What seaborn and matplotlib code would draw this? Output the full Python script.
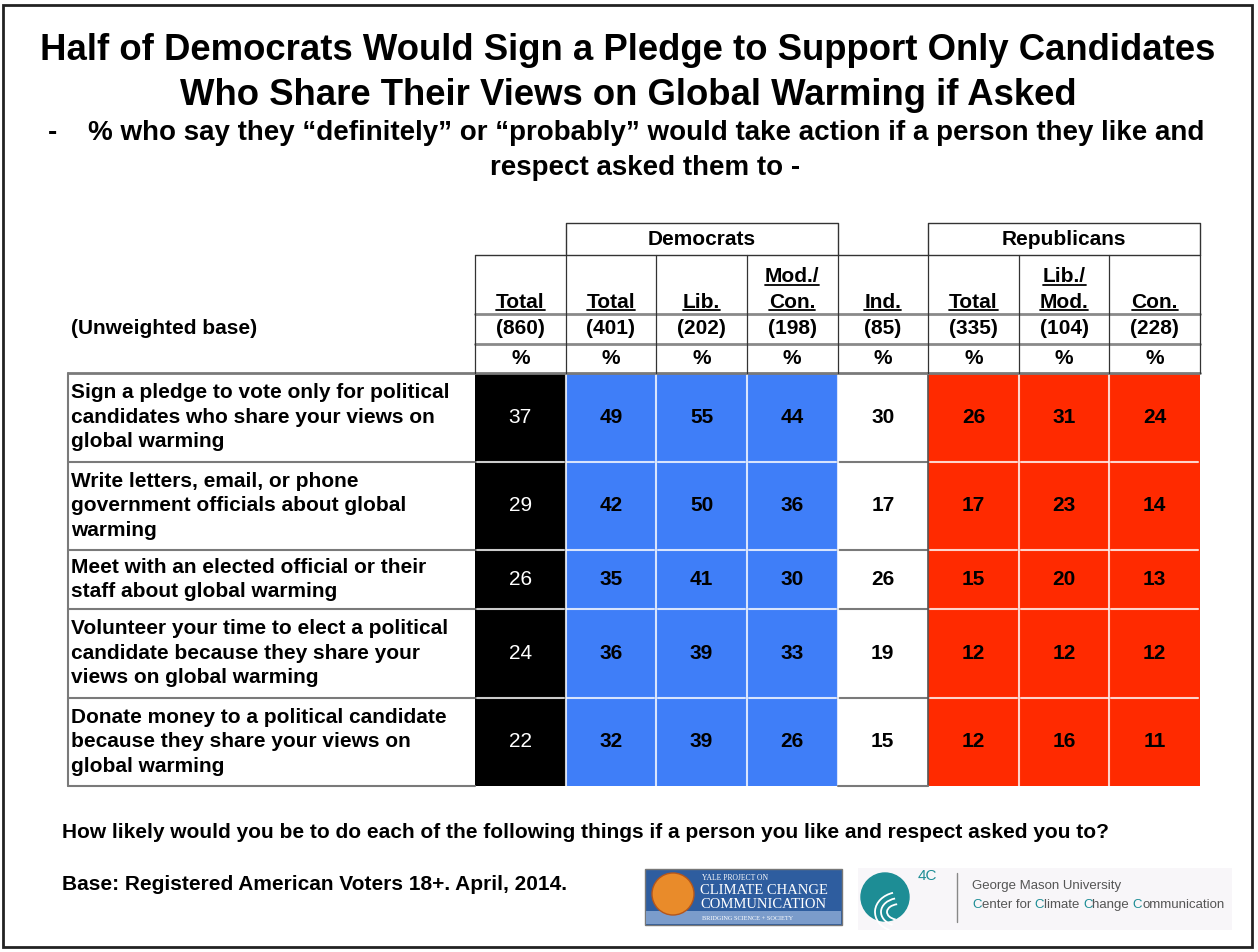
import matplotlib
matplotlib.use("Agg")
import matplotlib.pyplot as plt
import seaborn as sns
import numpy as np
from matplotlib.colors import ListedColormap
from matplotlib.patches import Rectangle, Circle, Arc

# ---- data ----
title = ("Half of Democrats Would Sign a Pledge to Support Only Candidates\n"
         "Who Share Their Views on Global Warming if Asked")
subtitle_1 = "% who say they \u201cdefinitely\u201d or \u201cprobably\u201d would take action if a person they like and"
subtitle_2 = "respect asked them to -"
question = ("How likely would you be to do each of the following things if a person "
            "you like and respect asked you to?")
base_note = "Base: Registered American Voters 18+. April, 2014."

actions = [
    "Sign a pledge to vote only for political\ncandidates who share your views on\nglobal warming",
    "Write letters, email, or phone\ngovernment officials about global\nwarming",
    "Meet with an elected official or their\nstaff about global warming",
    "Volunteer your time to elect a political\ncandidate because they share your\nviews on global warming",
    "Donate money to a political candidate\nbecause they share your views on\nglobal warming",
]
columns = ["Total", "Total", "Lib.", "Mod./\nCon.", "Ind.", "Total", "Lib./\nMod.", "Con."]
bases = [860, 401, 202, 198, 85, 335, 104, 228]
col_group = [0, 1, 1, 1, 2, 3, 3, 3]          # 0 all, 1 Dem, 2 Ind, 3 Rep
parties = {"Democrats": (1, 4), "Republicans": (5, 8)}
values = [
    [37, 49, 55, 44, 30, 26, 31, 24],
    [29, 42, 50, 36, 17, 17, 23, 14],
    [26, 35, 41, 30, 26, 15, 20, 13],
    [24, 36, 39, 33, 19, 12, 12, 12],
    [22, 32, 39, 26, 15, 12, 16, 11],
]
group_colors = ["#000000", "#3f7ef8", "#ffffff", "#ff2a00"]

W, H = 1258, 952
sns.set_style("white")
plt.rcParams["font.family"] = ["Liberation Sans", "DejaVu Sans"]
plt.rcParams["text.color"] = "black"
fig = plt.figure(figsize=(W / 100, H / 100), dpi=100)

# background layer in pixel coordinates
bg = fig.add_axes([0, 0, 1, 1])
bg.set_xlim(0, W)
bg.set_ylim(H, 0)
bg.axis("off")
bg.add_patch(Rectangle((3, 5), 1249, 942, fill=False, ec="#222222", lw=2))

bg.text(628, 73, title, ha="center", va="center", fontsize=26.3,
        fontweight="bold", linespacing=1.36)
bg.text(48, 133, "-", ha="left", va="center", fontsize=20, fontweight="bold")
bg.text(646, 133, subtitle_1, ha="center", va="center", fontsize=20, fontweight="bold")
bg.text(645, 168, subtitle_2, ha="center", va="center", fontsize=20, fontweight="bold")
bg.text(62, 832, question, ha="left", va="center", fontsize=15, fontweight="bold")
bg.text(62, 885, base_note, ha="left", va="center", fontsize=15, fontweight="bold")

# logos (simplified)
bg.add_patch(Rectangle((645, 869), 197, 56, fc="#2e5d9f", ec="#777777", lw=1))
bg.add_patch(Rectangle((646, 911), 195, 13, fc="#7b9ccb", ec="none"))
bg.add_patch(Circle((673, 894), 21, fc="#e98b2a", ec="#b5561b", lw=1))
bg.text(702, 878, "YALE PROJECT ON", fontsize=5.5, color="white",
        family="Liberation Serif", va="center")
bg.text(700, 891, "CLIMATE CHANGE", fontsize=10.5, color="white",
        family="Liberation Serif", va="center")
bg.text(700, 905, "COMMUNICATION", fontsize=10.5, color="white",
        family="Liberation Serif", va="center")
bg.text(702, 918, "BRIDGING SCIENCE + SOCIETY", fontsize=4.5, color="white",
        family="Liberation Serif", va="center")
bg.add_patch(Rectangle((858, 868), 374, 62, fc="#f8f6f9", ec="none"))
bg.add_patch(Circle((885, 897), 24, fc="#1d8d95", ec="#1d8d95", lw=1))
for r in (8, 14, 20):
    bg.add_patch(Arc((900, 912), 2 * r + 10, 2 * r, theta1=120, theta2=250,
                     color="white", lw=1.3))
bg.text(918, 876, "4C", fontsize=11, color="#1d8d95", va="center")
bg.plot([957, 957], [873, 922], color="#888888", lw=1)
bg.text(972, 886, "George Mason University", fontsize=9.5, color="#555555", va="center")

# ---- table cells via seaborn heatmap ----
row_units = [a.count("\n") + 1 for a in actions]
edges = np.concatenate([[0], np.cumsum(row_units)])
centers = (edges[:-1] + edges[1:]) / 2
codes = np.repeat(np.array(col_group)[None, :], edges[-1], axis=0)

ax = fig.add_axes([475 / W, 1 - 786 / H, 725 / W, 413 / H])
sns.heatmap(codes, ax=ax, cmap=ListedColormap(group_colors), vmin=-0.5, vmax=3.5,
            cbar=False, xticklabels=False, yticklabels=False, linewidths=0)
ax.set_xlim(0, len(columns))
ax.set_ylim(edges[-1], 0)

ncol = len(columns)
lab_w = 407 / 90.6          # width of the label column in cell units
grey = "#7a7a7a"
fs = 15
kw = dict(clip_on=False)

# row text and values
for i, (lab, row) in enumerate(zip(actions, values)):
    ax.text(-lab_w + 0.03, centers[i], lab, ha="left", va="center",
            fontsize=fs, fontweight="bold", linespacing=1.36, **kw)
    for j, v in enumerate(row):
        white = col_group[j] == 0
        ax.text(j + 0.5, centers[i], str(v), ha="center", va="center", fontsize=fs,
                color="white" if white else "black",
                fontweight="normal" if white else "bold", **kw)

# grid lines in the body
for y in edges[1:-1]:
    ax.plot([-lab_w, 0], [y, y], color=grey, lw=1.5, **kw)
    ax.plot([4, 5], [y, y], color=grey, lw=1.5, **kw)
    for j in range(ncol):
        if col_group[j] != 2:
            ax.plot([j + 0.02, j + 0.98], [y, y], color="white", lw=1.5, alpha=0.8, **kw)
for x in range(1, ncol):
    if x != 5:
        ax.plot([x, x], [0, edges[-1]], color="white", lw=1.5, alpha=0.8, **kw)
ax.plot([5, 5], [0, edges[-1]], color="#555555", lw=1.2, **kw)
ax.plot([-lab_w, -lab_w], [0, edges[-1]], color=grey, lw=1.5, **kw)
ax.plot([-lab_w, 0], [edges[-1], edges[-1]], color=grey, lw=1.5, **kw)
ax.plot([4, 5], [edges[-1], edges[-1]], color=grey, lw=1.5, **kw)
ax.plot([-lab_w, ncol], [0, 0], color=grey, lw=2, **kw)

# header lines
top_box = -5.08
ax.plot([0, ncol], [-1, -1], color="#8a8a8a", lw=2, **kw)
ax.plot([0, ncol], [-2, -2], color="#8a8a8a", lw=2, **kw)
ax.plot([0, ncol], [-4, -4], color="#333333", lw=1, **kw)
for x in range(ncol + 1):
    ax.plot([x, x], [-4, 0], color="#333333", lw=0.9, **kw)
for name, (x0, x1) in parties.items():
    ax.plot([x0, x0, x1, x1], [-4, top_box, top_box, -4], color="#333333", lw=1, **kw)
    ax.text((x0 + x1) / 2, (top_box - 4) / 2, name, ha="center", va="center",
            fontsize=fs, fontweight="bold", **kw)

# header text, underlined column names
heads = []
for j, name in enumerate(columns):
    lines = name.split("\n")
    for k, line in enumerate(lines):
        y = -2.22 - 0.85 * (len(lines) - 1 - k)
        t = ax.text(j + 0.5, y, line, ha="center", va="baseline", fontsize=fs,
                    fontweight="bold", **kw)
        heads.append((t, y))
    ax.text(j + 0.5, -1.5, f"({bases[j]})", ha="center", va="center",
            fontsize=fs, fontweight="bold", **kw)
    ax.text(j + 0.5, -0.5, "%", ha="center", va="center", fontsize=fs,
            fontweight="bold", **kw)
ax.text(-lab_w + 0.03, -1.5, "(Unweighted base)", ha="left", va="center",
        fontsize=fs, fontweight="bold", **kw)

fig.canvas.draw()
renderer = fig.canvas.get_renderer()
inv = ax.transData.inverted()
for t, y in heads:
    bb = t.get_window_extent(renderer)
    (x0, _), (x1, _) = inv.transform([[bb.x0, 0], [bb.x1, 0]])
    ax.plot([x0, x1], [y + 0.08, y + 0.08], color="black", lw=1.3, **kw)

# GMU second line with teal initials
x = 972
for piece, col in [("C", "#1d8d95"), ("enter for ", "#555555"), ("C", "#1d8d95"),
                   ("limate ", "#555555"), ("C", "#1d8d95"), ("hange ", "#555555"),
                   ("C", "#1d8d95"), ("ommunication", "#555555")]:
    t = bg.text(x, 905, piece, fontsize=9.5, color=col, va="center")
    bb = t.get_window_extent(renderer)
    x += bb.width * W / fig.bbox.width

fig.savefig("out.png", dpi=100)
